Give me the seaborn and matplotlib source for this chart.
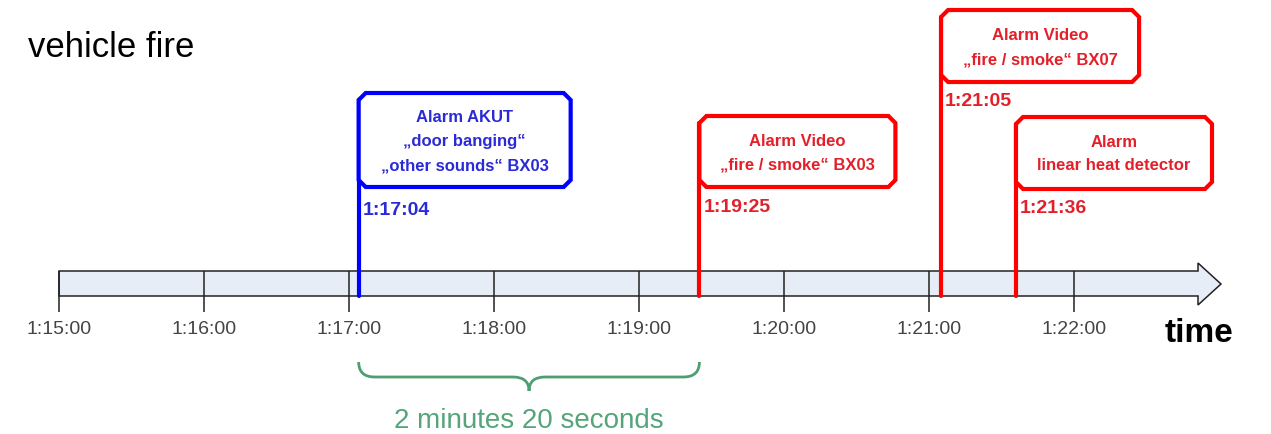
import matplotlib.pyplot as plt
import matplotlib.patches as mpatches
from matplotlib.path import Path
import pandas as pd
import numpy as np
import seaborn as sns

# data
tick_labels = ["1:15:00", "1:16:00", "1:17:00", "1:18:00", "1:19:00", "1:20:00", "1:21:00", "1:22:00"]
event_times = ["1:17:04", "1:19:25", "1:21:05", "1:21:36"]
event_texts = [
    ["Alarm AKUT", "\u201edoor banging\u201c", "\u201eother sounds\u201c BX03"],
    ["Alarm Video", "\u201efire / smoke\u201c BX03"],
    ["Alarm Video", "\u201efire / smoke\u201c BX07"],
    ["Alarm", "linear heat detector"],
]
event_kind = ["acoustic", "video", "video", "heat"]
span_label = "2 minutes 20 seconds"


def to_sec(s):
    h, m, sec = [int(v) for v in s.split(":")]
    return h * 3600 + m * 60 + sec


t0 = to_sec(tick_labels[0])
ticks = [to_sec(t) - t0 for t in tick_labels]
events = [to_sec(t) - t0 for t in event_times]

# layout (pixels -> seconds along x, y in pixels)
K = 145 / 60.0
def px(p):
    return p / K

c = 7  # corner chamfer
box_w = [212, 196, 198, 196]
box_top = [94, 117, 11, 118]
box_bot = [188, 188, 83, 190]
line_rows = [[118, 142, 166], [142, 165], [35, 60], [143, 166]]
time_y = [211, 208, 102, 209]
edge_col = {"acoustic": "#0000ff", "video": "#ff0000", "heat": "#ff0000"}
text_col = {"acoustic": "#2a2ad8", "video": "#e3202a", "heat": "#e3202a"}

sns.set_theme(style="white")
plt.rcParams['font.family'] = ['Liberation Sans', 'DejaVu Sans']

fig = plt.figure(figsize=(12.71, 4.35), dpi=100)
ax = fig.add_axes([0, 0, 1, 1])
ax.set_xlim(px(-59), px(1271 - 59))
ax.set_ylim(435, 0)
ax.axis("off")

# time axis bar with arrow
bar_end = px(1198 - 59)
tip = px(1221 - 59)
arrow = mpatches.Polygon([(0, 272), (bar_end, 272), (bar_end, 264), (tip, 285),
                          (bar_end, 306), (bar_end, 297), (0, 297)],
                         closed=True, facecolor="#e6edf6", edgecolor="#222222", lw=1.1, zorder=1)
ax.add_patch(arrow)
ax.vlines(ticks, 272, 313, color="#222222", lw=1.1, zorder=2)
for t, lab in zip(ticks, tick_labels):
    ax.text(t, 330, lab, ha="center", va="center", fontsize=14, color="#444444")

ax.text(px(28 - 59), 57, "vehicle fire", fontsize=25, color="black", va="baseline", ha="left")
ax.text(px(1165 - 59), 342, "time", fontsize=24, fontweight="bold", color="black", va="baseline", ha="left")

# event lines
df = pd.DataFrame({
    "x": np.repeat(events, 2),
    "y": np.ravel([[top + c, 297] for top in box_top]),
    "event": np.repeat(event_times, 2),
})
palette = {et: edge_col[k] for et, k in zip(event_times, event_kind)}
sns.lineplot(data=df, x="x", y="y", hue="event", units="event", estimator=None,
             sort=False, palette=palette, lw=3, legend=False, ax=ax, zorder=3)

# boxes
for i, t in enumerate(events):
    k = event_kind[i]
    x0, x1 = t, t + px(box_w[i])
    y0, y1 = box_top[i], box_bot[i]
    cx = px(c)
    poly = mpatches.Polygon([(x0 + cx, y0), (x1 - cx, y0), (x1, y0 + c), (x1, y1 - c),
                             (x1 - cx, y1), (x0 + cx, y1), (x0, y1 - c), (x0, y0 + c)],
                            closed=True, facecolor="white", edgecolor=edge_col[k], lw=3, zorder=4)
    ax.add_patch(poly)
    xm = (x0 + x1) / 2
    for row, txt in zip(line_rows[i], event_texts[i]):
        ax.text(xm, row, txt, ha="center", va="center", fontsize=12, fontweight="bold",
                color=text_col[k], zorder=5)
    ax.text(t + px(4), time_y[i], event_times[i], ha="left", va="center", fontsize=14,
            fontweight="bold", color=text_col[k], zorder=5)

# brace between first two events
a, b = events[0], events[1]
m = (a + b) / 2
r = px(16)
verts = [(a, 363), (a, 378), (a + r, 378), (m - r, 378), (m, 378), (m, 392),
         (m, 378), (m + r, 378), (b - r, 378), (b, 378), (b, 363)]
codes = [Path.MOVETO, Path.CURVE3, Path.CURVE3, Path.LINETO, Path.CURVE3, Path.CURVE3,
         Path.CURVE3, Path.CURVE3, Path.LINETO, Path.CURVE3, Path.CURVE3]
brace = mpatches.PathPatch(Path(verts, codes), facecolor="none", edgecolor="#4e9e73", lw=2, zorder=3)
ax.add_patch(brace)
ax.text(m, 421, span_label, ha="center", va="center", fontsize=20, color="#55a57a")

plt.savefig("out.png", dpi=100)
